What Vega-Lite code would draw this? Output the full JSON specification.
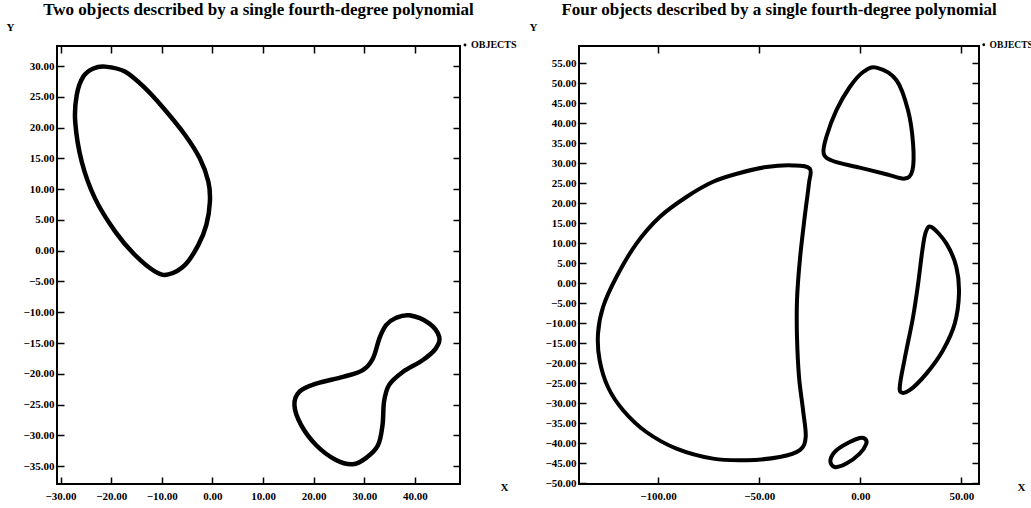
{
  "$schema": "https://vega.github.io/schema/vega-lite/v6.json",
  "padding": {"left": 5, "top": 0, "right": 0, "bottom": 0},
  "background": "white",
  "config": {
    "font": "Liberation Serif",
    "view": {"stroke": "black", "strokeWidth": 2},
    "axis": {
      "labelFont": "Liberation Serif", "labelFontWeight": "bold", "labelFontSize": 11, "labelColor": "black",
      "tickColor": "black", "tickSize": -7, "tickWidth": 1.5, "domain": false, "grid": false,
      "titleFont": "Liberation Serif", "titleFontWeight": "bold", "titleFontSize": 11, "titleColor": "black"
    },
    "title": {"font": "Liberation Serif", "fontSize": 17, "fontWeight": "bold", "color": "black", "frame": "group"}
  },
  "resolve": {"scale": {"color": "independent"}},
  "spacing": 10,
  "datasets": {
    "left": [
      {"obj": "A", "i": 0, "x": -21.2, "y": 29.9},
      {"obj": "A", "i": 1, "x": -17.3, "y": 29.1},
      {"obj": "A", "i": 2, "x": -13.3, "y": 26.4},
      {"obj": "A", "i": 3, "x": -9.4, "y": 22.9},
      {"obj": "A", "i": 4, "x": -5.4, "y": 18.8},
      {"obj": "A", "i": 5, "x": -2.5, "y": 15.0},
      {"obj": "A", "i": 6, "x": -0.8, "y": 11.2},
      {"obj": "A", "i": 7, "x": -0.5, "y": 7.95},
      {"obj": "A", "i": 8, "x": -1.2, "y": 4.2},
      {"obj": "A", "i": 9, "x": -2.8, "y": 0.9},
      {"obj": "A", "i": 10, "x": -5.4, "y": -2.3},
      {"obj": "A", "i": 11, "x": -8.7, "y": -3.85},
      {"obj": "A", "i": 12, "x": -11.3, "y": -3.4},
      {"obj": "A", "i": 13, "x": -15.3, "y": -0.7},
      {"obj": "A", "i": 14, "x": -19.2, "y": 3.1},
      {"obj": "A", "i": 15, "x": -23.2, "y": 8.5},
      {"obj": "A", "i": 16, "x": -25.8, "y": 14.4},
      {"obj": "A", "i": 17, "x": -27.1, "y": 20.9},
      {"obj": "A", "i": 18, "x": -26.8, "y": 25.3},
      {"obj": "A", "i": 19, "x": -25.5, "y": 28.3},
      {"obj": "A", "i": 20, "x": -23.5, "y": 29.6},
      {"obj": "B", "i": 0, "x": 38.9, "y": -10.5},
      {"obj": "B", "i": 1, "x": 42.8, "y": -11.8},
      {"obj": "B", "i": 2, "x": 44.8, "y": -14.0},
      {"obj": "B", "i": 3, "x": 44.1, "y": -15.9},
      {"obj": "B", "i": 4, "x": 41.5, "y": -17.8},
      {"obj": "B", "i": 5, "x": 37.6, "y": -19.7},
      {"obj": "B", "i": 6, "x": 34.9, "y": -21.8},
      {"obj": "B", "i": 7, "x": 33.9, "y": -24.5},
      {"obj": "B", "i": 8, "x": 33.6, "y": -28.3},
      {"obj": "B", "i": 9, "x": 32.7, "y": -31.6},
      {"obj": "B", "i": 10, "x": 30.3, "y": -33.7},
      {"obj": "B", "i": 11, "x": 27.7, "y": -34.7},
      {"obj": "B", "i": 12, "x": 24.4, "y": -34.0},
      {"obj": "B", "i": 13, "x": 20.5, "y": -31.6},
      {"obj": "B", "i": 14, "x": 17.5, "y": -28.3},
      {"obj": "B", "i": 15, "x": 16.2, "y": -25.1},
      {"obj": "B", "i": 16, "x": 17.2, "y": -22.9},
      {"obj": "B", "i": 17, "x": 20.5, "y": -21.6},
      {"obj": "B", "i": 18, "x": 25.8, "y": -20.5},
      {"obj": "B", "i": 19, "x": 29.7, "y": -19.4},
      {"obj": "B", "i": 20, "x": 31.7, "y": -17.5},
      {"obj": "B", "i": 21, "x": 33.0, "y": -14.2},
      {"obj": "B", "i": 22, "x": 34.3, "y": -12.1},
      {"obj": "B", "i": 23, "x": 36.3, "y": -10.9}
    ],
    "right": [
      {"obj": "C", "i": 0, "x": -25.0, "y": 28.6},
      {"obj": "C", "i": 1, "x": -33.3, "y": 29.4},
      {"obj": "C", "i": 2, "x": -46.4, "y": 29.0},
      {"obj": "C", "i": 3, "x": -59.6, "y": 27.5},
      {"obj": "C", "i": 4, "x": -72.8, "y": 25.3},
      {"obj": "C", "i": 5, "x": -86.0, "y": 21.5},
      {"obj": "C", "i": 6, "x": -99.2, "y": 16.5},
      {"obj": "C", "i": 7, "x": -110.7, "y": 9.85},
      {"obj": "C", "i": 8, "x": -120.6, "y": 1.5},
      {"obj": "C", "i": 9, "x": -127.2, "y": -6.0},
      {"obj": "C", "i": 10, "x": -129.7, "y": -12.65},
      {"obj": "C", "i": 11, "x": -128.9, "y": -19.3},
      {"obj": "C", "i": 12, "x": -124.8, "y": -26.0},
      {"obj": "C", "i": 13, "x": -117.3, "y": -31.8},
      {"obj": "C", "i": 14, "x": -105.8, "y": -37.25},
      {"obj": "C", "i": 15, "x": -90.9, "y": -41.4},
      {"obj": "C", "i": 16, "x": -72.8, "y": -43.9},
      {"obj": "C", "i": 17, "x": -56.3, "y": -44.3},
      {"obj": "C", "i": 18, "x": -39.8, "y": -43.5},
      {"obj": "C", "i": 19, "x": -29.9, "y": -41.8},
      {"obj": "C", "i": 20, "x": -27.0, "y": -38.5},
      {"obj": "C", "i": 21, "x": -28.3, "y": -31.8},
      {"obj": "C", "i": 22, "x": -30.3, "y": -23.5},
      {"obj": "C", "i": 23, "x": -31.3, "y": -13.5},
      {"obj": "C", "i": 24, "x": -31.3, "y": -4.3},
      {"obj": "C", "i": 25, "x": -29.9, "y": 5.7},
      {"obj": "C", "i": 26, "x": -27.5, "y": 16.5},
      {"obj": "C", "i": 27, "x": -25.4, "y": 24.85},
      {"obj": "D", "i": 0, "x": 8.0, "y": 53.85},
      {"obj": "D", "i": 1, "x": 17.9, "y": 50.7},
      {"obj": "D", "i": 2, "x": 23.6, "y": 43.2},
      {"obj": "D", "i": 3, "x": 26.1, "y": 34.85},
      {"obj": "D", "i": 4, "x": 25.8, "y": 28.2},
      {"obj": "D", "i": 5, "x": 22.0, "y": 26.1},
      {"obj": "D", "i": 6, "x": 12.9, "y": 27.2},
      {"obj": "D", "i": 7, "x": -0.3, "y": 28.85},
      {"obj": "D", "i": 8, "x": -13.5, "y": 30.5},
      {"obj": "D", "i": 9, "x": -18.1, "y": 32.35},
      {"obj": "D", "i": 10, "x": -16.8, "y": 36.5},
      {"obj": "D", "i": 11, "x": -11.8, "y": 43.2},
      {"obj": "D", "i": 12, "x": -5.2, "y": 49.0},
      {"obj": "D", "i": 13, "x": 1.4, "y": 52.75},
      {"obj": "E", "i": 0, "x": 35.2, "y": 14.0},
      {"obj": "E", "i": 1, "x": 42.6, "y": 9.85},
      {"obj": "E", "i": 2, "x": 47.5, "y": 4.0},
      {"obj": "E", "i": 3, "x": 48.8, "y": -2.65},
      {"obj": "E", "i": 4, "x": 46.7, "y": -10.15},
      {"obj": "E", "i": 5, "x": 40.9, "y": -16.8},
      {"obj": "E", "i": 6, "x": 32.7, "y": -22.65},
      {"obj": "E", "i": 7, "x": 24.4, "y": -26.8},
      {"obj": "E", "i": 8, "x": 20.0, "y": -27.25},
      {"obj": "E", "i": 9, "x": 19.8, "y": -24.75},
      {"obj": "E", "i": 10, "x": 22.8, "y": -16.8},
      {"obj": "E", "i": 11, "x": 26.1, "y": -8.5},
      {"obj": "E", "i": 12, "x": 28.6, "y": -0.15},
      {"obj": "E", "i": 13, "x": 30.7, "y": 8.2},
      {"obj": "E", "i": 14, "x": 32.4, "y": 12.75},
      {"obj": "F", "i": 0, "x": 2.2, "y": -38.9},
      {"obj": "F", "i": 1, "x": 3.0, "y": -40.15},
      {"obj": "F", "i": 2, "x": -0.3, "y": -42.65},
      {"obj": "F", "i": 3, "x": -6.9, "y": -45.15},
      {"obj": "F", "i": 4, "x": -12.7, "y": -46.0},
      {"obj": "F", "i": 5, "x": -14.8, "y": -44.3},
      {"obj": "F", "i": 6, "x": -11.8, "y": -41.8},
      {"obj": "F", "i": 7, "x": -5.2, "y": -39.75},
      {"obj": "F", "i": 8, "x": -0.3, "y": -38.75}
    ]
  },
  "hconcat": [
    {
      "title": {"text": "Two objects described by a single fourth-degree polynomial", "offset": 2},
      "width": 403,
      "height": 438,
      "data": {"name": "left"},
      "resolve": {"axis": {"x": "independent", "y": "independent"}},
      "layer": [
        {
          "mark": {"type": "line", "interpolate": "cardinal-closed", "strokeWidth": 4.5},
          "encoding": {
            "x": {"field": "x", "type": "quantitative",
              "scale": {"domain": [-30.7, 48.9], "nice": false, "zero": false},
              "axis": {"orient": "bottom", "values": [-30, -20, -10, 0, 10, 20, 30, 40], "format": ".2f", "labelPadding": 13,
                "title": "X", "titleAngle": 0, "titleX": 447, "titleY": 3, "titleAlign": "center", "titleBaseline": "middle"}},
            "y": {"field": "y", "type": "quantitative",
              "scale": {"domain": [-37.9, 33.25], "nice": false, "zero": false},
              "axis": {"orient": "left", "values": [-35, -30, -25, -20, -15, -10, -5, 0, 5, 10, 15, 20, 25, 30], "format": ".2f", "labelPadding": 10,
                "title": "Y", "titleAngle": 0, "titleX": -47, "titleY": -19, "titleAlign": "center", "titleBaseline": "middle"}},
            "detail": {"field": "obj", "type": "nominal"},
            "order": {"field": "i", "type": "quantitative"},
            "color": {"datum": "OBJECTS", "type": "nominal", "scale": {"range": ["black"]},
              "legend": {"title": null, "orient": "none", "legendX": 403, "legendY": -6, "padding": 0,
                "labelFont": "Liberation Serif", "labelFontWeight": "bold", "labelFontSize": 10, "labelColor": "black", "labelOffset": 1,
                "symbolType": "circle", "symbolSize": 8, "symbolFillColor": "black", "symbolStrokeColor": "black", "symbolStrokeWidth": 0}}
          }
        },
        {
          "mark": {"type": "point", "opacity": 0},
          "encoding": {
            "x": {"field": "x", "type": "quantitative",
              "scale": {"domain": [-30.7, 48.9], "nice": false, "zero": false},
              "axis": {"orient": "top", "values": [-30, -20, -10, 0, 10, 20, 30, 40], "labels": false, "title": null}},
            "y": {"field": "y", "type": "quantitative",
              "scale": {"domain": [-37.9, 33.25], "nice": false, "zero": false},
              "axis": {"orient": "right", "values": [-35, -30, -25, -20, -15, -10, -5, 0, 5, 10, 15, 20, 25, 30], "labels": false, "title": null}}
          }
        }
      ]
    },
    {
      "title": {"text": "Four objects described by a single fourth-degree polynomial", "offset": 2},
      "width": 400,
      "height": 438,
      "data": {"name": "right"},
      "resolve": {"axis": {"x": "independent", "y": "independent"}},
      "layer": [
        {
          "mark": {"type": "line", "interpolate": "cardinal-closed", "strokeWidth": 4},
          "encoding": {
            "x": {"field": "x", "type": "quantitative",
              "scale": {"domain": [-139.1, 58.7], "nice": false, "zero": false},
              "axis": {"orient": "bottom", "values": [-100, -50, 0, 50], "format": ".2f", "labelPadding": 13,
                "title": "X", "titleAngle": 0, "titleX": 442, "titleY": 3, "titleAlign": "center", "titleBaseline": "middle"}},
            "y": {"field": "y", "type": "quantitative",
              "scale": {"domain": [-50.25, 59.25], "nice": false, "zero": false},
              "axis": {"orient": "left", "values": [-50, -45, -40, -35, -30, -25, -20, -15, -10, -5, 0, 5, 10, 15, 20, 25, 30, 35, 40, 45, 50, 55], "format": ".2f", "labelPadding": 10,
                "title": "Y", "titleAngle": 0, "titleX": -46, "titleY": -19, "titleAlign": "center", "titleBaseline": "middle"}},
            "detail": {"field": "obj", "type": "nominal"},
            "order": {"field": "i", "type": "quantitative"},
            "color": {"datum": "OBJECTS", "type": "nominal", "scale": {"range": ["black"]},
              "legend": {"title": null, "orient": "none", "legendX": 400, "legendY": -6, "padding": 0,
                "labelFont": "Liberation Serif", "labelFontWeight": "bold", "labelFontSize": 9.5, "labelColor": "black", "labelOffset": 1,
                "symbolType": "circle", "symbolSize": 8, "symbolFillColor": "black", "symbolStrokeColor": "black", "symbolStrokeWidth": 0}}
          }
        },
        {
          "mark": {"type": "point", "opacity": 0},
          "encoding": {
            "x": {"field": "x", "type": "quantitative",
              "scale": {"domain": [-139.1, 58.7], "nice": false, "zero": false},
              "axis": {"orient": "top", "values": [-100, -50, 0, 50], "labels": false, "title": null}},
            "y": {"field": "y", "type": "quantitative",
              "scale": {"domain": [-50.25, 59.25], "nice": false, "zero": false},
              "axis": {"orient": "right", "values": [-50, -45, -40, -35, -30, -25, -20, -15, -10, -5, 0, 5, 10, 15, 20, 25, 30, 35, 40, 45, 50, 55], "labels": false, "title": null}}
          }
        }
      ]
    }
  ]
}
